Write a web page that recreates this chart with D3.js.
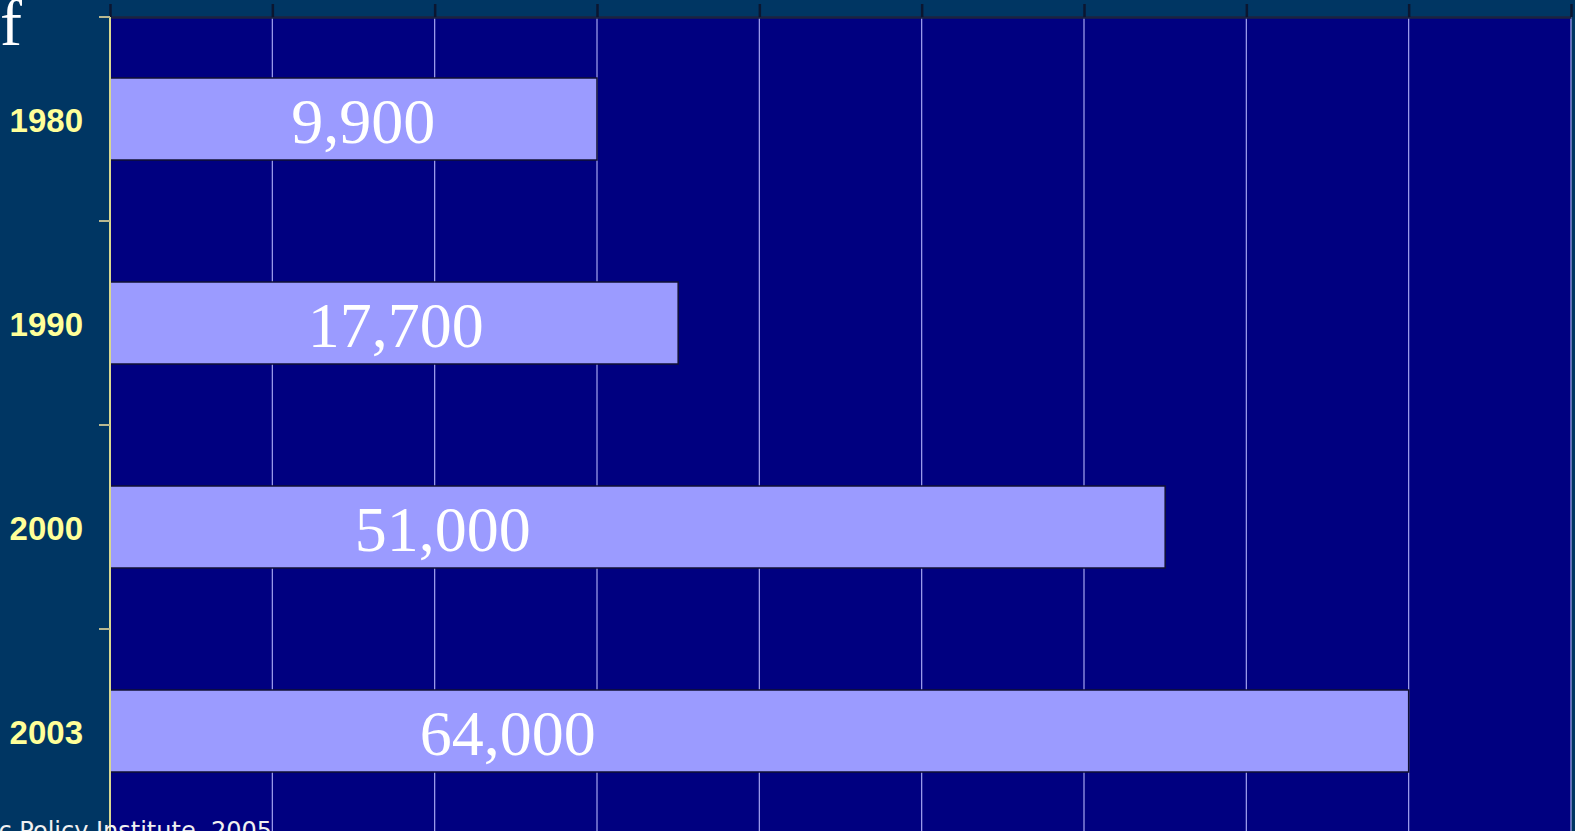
<!DOCTYPE html>
<html>
<head>
<meta charset="utf-8">
<script src="https://cdn.jsdelivr.net/npm/d3@7"></script>
<style>
  html, body { margin: 0; padding: 0; background: #003663; overflow: hidden; }
  svg { display: block; }
</style>
</head>
<body>
<div id="chart"></div>
<script>
// -> chart values
var years = ["1980", "1990", "2000", "2003"];
var barValues = [3, 3.5, 6.5, 8];              // bar length in grid units
var barLabels = ["9,900", "17,700", "51,000", "64,000"];
var labelAt = [1.56, 1.76, 2.05, 2.45];        // label centre, grid units
var gridTicks = [0, 1, 2, 3, 4, 5, 6, 7, 8, 9];

var width = 1575, height = 831;
var plotLeft = 110, plotRight = 1571, plotTop = 17, step = 204;

var svg = d3.select("#chart").append("svg")
    .attr("width", width)
    .attr("height", height);

var x = d3.scaleLinear().domain([0, 9]).range([plotLeft, plotRight]);
var y = d3.scaleBand()
    .domain(years)
    .range([plotTop, plotTop + step * years.length])
    .paddingInner(0.598)
    .paddingOuter(0.299);

// -> plot area
svg.append("rect")
    .attr("x", plotLeft).attr("y", plotTop)
    .attr("width", plotRight - plotLeft).attr("height", height - plotTop)
    .attr("fill", "#000080");

// -> vertical grid lines
svg.selectAll("line.grid")
    .data(gridTicks.slice(1))
    .enter().append("line")
    .attr("class", "grid")
    .attr("x1", function(d) { return x(d); })
    .attr("x2", function(d) { return x(d); })
    .attr("y1", plotTop).attr("y2", height)
    .attr("stroke", "#a4a4f0")
    .attr("stroke-width", 1.2);

// -> top axis (ticks only)
var topAxis = svg.append("g")
    .attr("transform", "translate(0," + plotTop + ")")
    .call(d3.axisTop(x).tickValues(gridTicks).tickSize(13).tickSizeOuter(0).tickFormat(""));
topAxis.select(".domain").attr("stroke", "#1c2340").attr("stroke-width", 2.5);
topAxis.selectAll(".tick line").attr("stroke", "#0b1630").attr("stroke-width", 2.5);

// -> bars
svg.selectAll("rect.bar")
    .data(years)
    .enter().append("rect")
    .attr("class", "bar")
    .attr("x", x(0))
    .attr("y", function(d) { return y(d); })
    .attr("width", function(d, i) { return x(barValues[i]) - x(0); })
    .attr("height", y.bandwidth())
    .attr("fill", "#9b9bff")
    .attr("stroke", "#111133")
    .attr("stroke-width", 1.5);

// -> value labels
svg.selectAll("text.val")
    .data(years)
    .enter().append("text")
    .attr("class", "val")
    .attr("x", function(d, i) { return x(labelAt[i]); })
    .attr("y", function(d) { return y(d) + y.bandwidth() / 2 + 24; })
    .attr("text-anchor", "middle")
    .attr("font-family", "'Liberation Serif', 'Times New Roman', serif")
    .attr("font-size", 64)
    .attr("fill", "#ffffff")
    .text(function(d, i) { return barLabels[i]; });

// -> left axis with band ticks
svg.append("line")
    .attr("x1", plotLeft).attr("x2", plotLeft)
    .attr("y1", plotTop).attr("y2", height)
    .attr("stroke", "#d8d890").attr("stroke-width", 2);

svg.selectAll("line.ytick")
    .data(d3.range(years.length + 1))
    .enter().append("line")
    .attr("class", "ytick")
    .attr("x1", plotLeft - 11).attr("x2", plotLeft)
    .attr("y1", function(i) { return plotTop + i * y.step(); })
    .attr("y2", function(i) { return plotTop + i * y.step(); })
    .attr("stroke", "#b8b890").attr("stroke-width", 2);

svg.selectAll("text.year")
    .data(years)
    .enter().append("text")
    .attr("class", "year")
    .attr("x", 83)
    .attr("y", function(d) { return y(d) + y.bandwidth() / 2 + 13; })
    .attr("text-anchor", "end")
    .attr("font-family", "'Liberation Sans', Arial, sans-serif")
    .attr("font-weight", "bold")
    .attr("font-size", 33)
    .attr("fill", "#ffff99")
    .text(function(d) { return d; });

// -> cut off title and source text
svg.append("text")
    .attr("x", 22).attr("y", 45)
    .attr("text-anchor", "end")
    .attr("font-family", "'Liberation Serif', 'Times New Roman', serif")
    .attr("font-size", 66)
    .attr("fill", "#ffffff")
    .text("of");

svg.append("text")
    .attr("x", 272).attr("y", 839)
    .attr("text-anchor", "end")
    .attr("font-family", "'DejaVu Sans', Verdana, sans-serif")
    .attr("font-size", 24)
    .attr("fill", "#f0f0f0")
    .text("Source: Public Policy Institute, 2005");
</script>
</body>
</html>
